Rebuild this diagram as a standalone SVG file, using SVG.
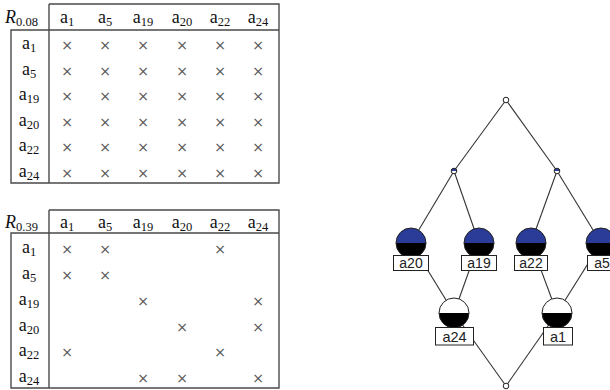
<svg xmlns="http://www.w3.org/2000/svg" width="610" height="390" viewBox="0 0 610 390">
  <style>
    .rule { stroke: #4a4a4a; stroke-width: 1.4; fill: none; }
    .tx { font-family: "Liberation Serif", "DejaVu Serif", serif; font-size: 18px; fill: #111; }
    .sub { font-size: 12.5px; }
    .it { font-style: italic; }
    .x { font-family: "DejaVu Sans", sans-serif; font-size: 14px; fill: #555; text-anchor: middle; }
    .edge { stroke: #333; stroke-width: 1.1; fill: none; }
    .ring { fill: none; stroke: #222; stroke-width: 1; }
    .blue { fill: #2b3b98; }
    .blk { fill: #000; }
    .wht { fill: #fff; }
    .box { fill: #fff; stroke: #222; stroke-width: 1; }
    .lbl { font-family: "Liberation Sans", Arial, sans-serif; font-size: 14px; fill: #222; text-anchor: middle; }
    .lbl2 { font-size: 14.5px; }
  </style>

  <!-- Relation table R0.08 -->
  <g id="table-r008">
    <path class="rule" d="M49,4 H279 V183 H11 V30 H279 M49,4 V183"/>
    <text class="tx" x="5" y="23"><tspan class="it">R</tspan><tspan class="sub" dy="3">0.08</tspan></text>
    <g text-anchor="middle">
      <text class="tx" x="67" y="23">a<tspan class="sub" dy="3">1</tspan></text>
      <text class="tx" x="105" y="23">a<tspan class="sub" dy="3">5</tspan></text>
      <text class="tx" x="143" y="23">a<tspan class="sub" dy="3">19</tspan></text>
      <text class="tx" x="182" y="23">a<tspan class="sub" dy="3">20</tspan></text>
      <text class="tx" x="220" y="23">a<tspan class="sub" dy="3">22</tspan></text>
      <text class="tx" x="258" y="23">a<tspan class="sub" dy="3">24</tspan></text>
      <text class="tx" x="29" y="49">a<tspan class="sub" dy="3">1</tspan></text>
      <text class="tx" x="29" y="74.5">a<tspan class="sub" dy="3">5</tspan></text>
      <text class="tx" x="29" y="100">a<tspan class="sub" dy="3">19</tspan></text>
      <text class="tx" x="29" y="125.5">a<tspan class="sub" dy="3">20</tspan></text>
      <text class="tx" x="29" y="151">a<tspan class="sub" dy="3">22</tspan></text>
      <text class="tx" x="29" y="176.5">a<tspan class="sub" dy="3">24</tspan></text>
    </g>
    <g class="x">
      <text x="67" y="50">×</text><text x="105" y="50">×</text><text x="143" y="50">×</text><text x="182" y="50">×</text><text x="220" y="50">×</text><text x="258" y="50">×</text>
      <text x="67" y="75.5">×</text><text x="105" y="75.5">×</text><text x="143" y="75.5">×</text><text x="182" y="75.5">×</text><text x="220" y="75.5">×</text><text x="258" y="75.5">×</text>
      <text x="67" y="101">×</text><text x="105" y="101">×</text><text x="143" y="101">×</text><text x="182" y="101">×</text><text x="220" y="101">×</text><text x="258" y="101">×</text>
      <text x="67" y="126.5">×</text><text x="105" y="126.5">×</text><text x="143" y="126.5">×</text><text x="182" y="126.5">×</text><text x="220" y="126.5">×</text><text x="258" y="126.5">×</text>
      <text x="67" y="152">×</text><text x="105" y="152">×</text><text x="143" y="152">×</text><text x="182" y="152">×</text><text x="220" y="152">×</text><text x="258" y="152">×</text>
      <text x="67" y="177.5">×</text><text x="105" y="177.5">×</text><text x="143" y="177.5">×</text><text x="182" y="177.5">×</text><text x="220" y="177.5">×</text><text x="258" y="177.5">×</text>
    </g>
  </g>

  <!-- Relation table R0.39 -->
  <g id="table-r039">
    <path class="rule" d="M49,210 H279 V388 H11 V233 H279 M49,210 V388"/>
    <text class="tx" x="5" y="228"><tspan class="it">R</tspan><tspan class="sub" dy="3">0.39</tspan></text>
    <g text-anchor="middle">
      <text class="tx" x="67" y="228">a<tspan class="sub" dy="3">1</tspan></text>
      <text class="tx" x="105" y="228">a<tspan class="sub" dy="3">5</tspan></text>
      <text class="tx" x="143" y="228">a<tspan class="sub" dy="3">19</tspan></text>
      <text class="tx" x="182" y="228">a<tspan class="sub" dy="3">20</tspan></text>
      <text class="tx" x="220" y="228">a<tspan class="sub" dy="3">22</tspan></text>
      <text class="tx" x="258" y="228">a<tspan class="sub" dy="3">24</tspan></text>
      <text class="tx" x="29" y="253">a<tspan class="sub" dy="3">1</tspan></text>
      <text class="tx" x="29" y="279">a<tspan class="sub" dy="3">5</tspan></text>
      <text class="tx" x="29" y="305">a<tspan class="sub" dy="3">19</tspan></text>
      <text class="tx" x="29" y="330.5">a<tspan class="sub" dy="3">20</tspan></text>
      <text class="tx" x="29" y="356">a<tspan class="sub" dy="3">22</tspan></text>
      <text class="tx" x="29" y="381.5">a<tspan class="sub" dy="3">24</tspan></text>
    </g>
    <g class="x">
      <text x="67" y="254">×</text><text x="105" y="254">×</text><text x="220" y="254">×</text>
      <text x="67" y="280">×</text><text x="105" y="280">×</text>
      <text x="143" y="306">×</text><text x="258" y="306">×</text>
      <text x="182" y="331.5">×</text><text x="258" y="331.5">×</text>
      <text x="67" y="357">×</text><text x="220" y="357">×</text>
      <text x="143" y="382.5">×</text><text x="182" y="382.5">×</text><text x="258" y="382.5">×</text>
    </g>
  </g>

  <!-- Concept lattice: edges -->
  <g id="edges" class="edge">
    <line x1="506" y1="100" x2="454" y2="171"/>
    <line x1="506" y1="100" x2="557" y2="171"/>
    <line x1="454" y1="171" x2="411" y2="243"/>
    <line x1="454" y1="171" x2="479" y2="243"/>
    <line x1="557" y1="171" x2="531" y2="243"/>
    <line x1="557" y1="171" x2="601" y2="243"/>
    <line x1="411" y1="243" x2="454" y2="313"/>
    <line x1="479" y1="243" x2="454" y2="313"/>
    <line x1="531" y1="243" x2="557" y2="313"/>
    <line x1="601" y1="243" x2="557" y2="313"/>
    <line x1="454" y1="313" x2="506" y2="386"/>
    <line x1="557" y1="313" x2="506" y2="386"/>
  </g>

  <!-- Concept lattice: nodes -->
  <g id="top">
    <circle class="wht" cx="506" cy="100" r="2.8"/>
    <circle class="ring" cx="506" cy="100" r="2.8"/>
  </g>
  <g id="mid-left">
    <path class="blue" d="M451.2,171 A2.8,2.8 0 0 1 456.8,171 Z"/>
    <path class="wht" d="M451.2,171 A2.8,2.8 0 0 0 456.8,171 Z"/>
    <circle class="ring" cx="454" cy="171" r="2.8"/>
  </g>
  <g id="mid-right">
    <path class="blue" d="M554.2,171 A2.8,2.8 0 0 1 559.8,171 Z"/>
    <path class="wht" d="M554.2,171 A2.8,2.8 0 0 0 559.8,171 Z"/>
    <circle class="ring" cx="557" cy="171" r="2.8"/>
  </g>

  <g id="a20">
    <path class="blue" d="M396,243 A15,15 0 0 1 426,243 Z"/>
    <path class="blk" d="M396,243 A15,15 0 0 0 426,243 Z"/>
    <circle class="ring" cx="411" cy="243" r="15"/>
    <rect class="box" x="393.5" y="255.5" width="35" height="15"/>
    <text class="lbl" x="411" y="268">a20</text>
  </g>
  <g id="a19">
    <path class="blue" d="M464,243 A15,15 0 0 1 494,243 Z"/>
    <path class="blk" d="M464,243 A15,15 0 0 0 494,243 Z"/>
    <circle class="ring" cx="479" cy="243" r="15"/>
    <rect class="box" x="461.5" y="255.5" width="35" height="15"/>
    <text class="lbl" x="479" y="268">a19</text>
  </g>
  <g id="a22">
    <path class="blue" d="M516,243 A15,15 0 0 1 546,243 Z"/>
    <path class="blk" d="M516,243 A15,15 0 0 0 546,243 Z"/>
    <circle class="ring" cx="531" cy="243" r="15"/>
    <rect class="box" x="514.5" y="255.5" width="33" height="15"/>
    <text class="lbl" x="531" y="268">a22</text>
  </g>
  <g id="a5">
    <path class="blue" d="M586,243 A15,15 0 0 1 616,243 Z"/>
    <path class="blk" d="M586,243 A15,15 0 0 0 616,243 Z"/>
    <circle class="ring" cx="601" cy="243" r="15"/>
    <rect class="box" x="587.5" y="255.5" width="28" height="15"/>
    <text class="lbl" x="602" y="268">a5</text>
  </g>
  <g id="a24">
    <path class="wht" d="M439,313 A15,15 0 0 1 469,313 Z"/>
    <path class="blk" d="M439,313 A15,15 0 0 0 469,313 Z"/>
    <circle class="ring" cx="454" cy="313" r="15"/>
    <rect class="box" x="435.5" y="327.5" width="38" height="17.5"/>
    <text class="lbl lbl2" x="454.5" y="341.5">a24</text>
  </g>
  <g id="a1">
    <path class="wht" d="M542,313 A15,15 0 0 1 572,313 Z"/>
    <path class="blk" d="M542,313 A15,15 0 0 0 572,313 Z"/>
    <circle class="ring" cx="557" cy="313" r="15"/>
    <rect class="box" x="543.5" y="327.5" width="29" height="17.5"/>
    <text class="lbl lbl2" x="558" y="341.5">a1</text>
  </g>
  <g id="bottom">
    <circle class="wht" cx="506" cy="386" r="2.8"/>
    <circle class="ring" cx="506" cy="386" r="2.8"/>
  </g>
</svg>
